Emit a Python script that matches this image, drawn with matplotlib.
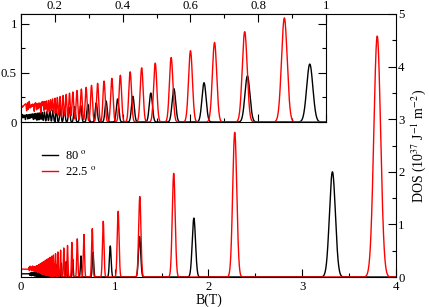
import numpy as np
import matplotlib
matplotlib.use("Agg")
import matplotlib.pyplot as plt
from matplotlib.ticker import MultipleLocator, FormatStrFormatter

plt.rcParams['font.family'] = ['Liberation Serif', 'DejaVu Serif']
plt.rcParams['mathtext.fontset'] = 'stix'

# ---------------- data ----------------
labels = ["80 $^{\\mathrm{o}}$", "22.5 $^{\\mathrm{o}}$"]
colors = ["black", "#ff0000"]

# Landau-level peak centres (T) and peak heights (10^37 J^-1 m^-2)
black_centers = [3.322, 1.844, 1.265, 0.952, 0.768, 0.640, 0.551, 0.483, 0.430, 0.385,
                 0.351, 0.322, 0.297, 0.276, 0.258, 0.242, 0.228, 0.216, 0.204, 0.194,
                 0.185, 0.177, 0.169, 0.162, 0.156, 0.150, 0.144, 0.139, 0.134, 0.130,
                 0.126, 0.122, 0.118, 0.115, 0.111, 0.108, 0.105, 0.103, 0.100, 0.098,
                 0.095, 0.093, 0.091, 0.089]
black_heights = [2.00, 1.12, 0.77, 0.59, 0.47, 0.40, 0.34, 0.295, 0.262, 0.235,
                 0.214, 0.196, 0.181, 0.168, 0.157, 0.148, 0.139, 0.132, 0.124, 0.118,
                 0.113, 0.108, 0.103, 0.099, 0.095, 0.092, 0.088, 0.085, 0.082, 0.079,
                 0.077, 0.074, 0.072, 0.070, 0.068, 0.066, 0.064, 0.063, 0.061, 0.060,
                 0.058, 0.057, 0.056, 0.054]

red_centers = [3.800, 2.280, 1.629, 1.267, 1.036, 0.877, 0.760, 0.671, 0.600, 0.543,
               0.496, 0.456, 0.422, 0.393, 0.368, 0.345, 0.326, 0.308, 0.292, 0.278,
               0.265, 0.253, 0.243, 0.233, 0.224, 0.215, 0.207, 0.200, 0.193, 0.187,
               0.181, 0.175, 0.170, 0.165, 0.161, 0.156, 0.152, 0.148, 0.144, 0.141,
               0.137, 0.134, 0.131, 0.128, 0.125, 0.123, 0.120, 0.118, 0.115, 0.113,
               0.111, 0.109, 0.107, 0.105, 0.103, 0.101, 0.099, 0.097, 0.096, 0.094,
               0.093, 0.091, 0.090, 0.088, 0.087]
red_heights = [4.58, 2.75, 1.97, 1.53, 1.25, 1.06, 0.92, 0.81, 0.726, 0.657,
               0.600, 0.552, 0.511, 0.476, 0.445, 0.417, 0.394, 0.373, 0.353, 0.336,
               0.321, 0.306, 0.294, 0.282, 0.271, 0.260, 0.250, 0.242, 0.234, 0.226,
               0.219, 0.212, 0.206, 0.200, 0.195, 0.189, 0.184, 0.179, 0.174, 0.171,
               0.166, 0.162, 0.159, 0.155, 0.151, 0.149, 0.145, 0.143, 0.139, 0.137,
               0.134, 0.132, 0.129, 0.127, 0.125, 0.122, 0.120, 0.117, 0.116, 0.114,
               0.113, 0.110, 0.109, 0.106, 0.105]

# low-field level where the levels merge
black_low_field = 0.06
red_low_field = 0.15

main_xticks = [0, 1, 2, 3, 4]
main_yticks = [0, 1, 2, 3, 4, 5]
inset_xticks = [0.2, 0.4, 0.6, 0.8, 1.0]
inset_yticks = [0, 0.5, 1.0]

WIDTH_FRAC = 0.0095   # Gaussian sigma relative to field


def dos(b, centers, heights, low_level):
    y = np.zeros_like(b)
    for c, h in zip(centers, heights):
        s = WIDTH_FRAC * c
        y += h * np.exp(-0.5 * ((b - c) / s) ** 2)
    edge = min(centers)
    sp = edge ** 2 * 0.2
    y += low_level / (1.0 + np.exp((b - (edge - 0.5 * sp)) / (0.3 * sp)))
    return y


series = [(black_centers, black_heights, black_low_field),
          (red_centers, red_heights, red_low_field)]

fig = plt.figure(figsize=(4.29, 3.07), dpi=100)

# ---------------- main axes ----------------
ax = fig.add_axes([0.049, 0.0977, 0.874, 0.8567])
b_main = np.linspace(0.0, 4.0, 40001)
for (c, h, lo), col, lab in zip(series, colors, labels):
    ax.plot(b_main, dos(b_main, c, h, lo), color=col, lw=1.0, label=lab)
ax.set_xlim(0, 4)
ax.set_ylim(0, 5)
ax.set_xticks(main_xticks)
ax.set_yticks(main_yticks)
ax.xaxis.set_minor_locator(MultipleLocator(0.5))
ax.yaxis.set_minor_locator(MultipleLocator(0.5))
ax.yaxis.tick_right()
ax.yaxis.set_label_position('right')
ax.tick_params(axis='both', which='both', direction='in', top=False, left=False,
               right=True, bottom=True, labelsize=9.2, width=0.8)
ax.tick_params(axis='x', which='major', length=6, pad=3)
ax.tick_params(axis='y', which='major', length=6, pad=1.5)
ax.tick_params(which='minor', length=3)
ax.set_xlabel("B(T)", fontsize=10, labelpad=0)
ax.set_ylabel("DOS (10$^{37}$ J$^{-1}$ m$^{-2}$)", fontsize=10, labelpad=3)
for sp in ax.spines.values():
    sp.set_linewidth(0.8)

leg = ax.legend(loc='upper left', bbox_to_anchor=(0.055, 0.487), frameon=False,
                fontsize=9, handlelength=1.3, handletextpad=0.55, labelspacing=0.25,
                borderpad=0, borderaxespad=0)

# ---------------- inset ----------------
ins = fig.add_axes([0.049, 0.6026, 0.711, 0.3518])
b_ins = np.linspace(0.1, 1.0, 36001)
for (c, h, lo), col in zip(series, colors):
    ins.plot(b_ins, dos(b_ins, c, h, lo), color=col, lw=1.0)
ins.set_xlim(0.1, 1.0)
ins.set_ylim(0, 1.1)
ins.set_xticks(inset_xticks)
ins.set_yticks(inset_yticks)
ins.xaxis.set_minor_locator(MultipleLocator(0.1))
ins.yaxis.set_minor_locator(MultipleLocator(0.25))
ins.xaxis.set_major_formatter(FormatStrFormatter('%g'))
ins.yaxis.set_major_formatter(FormatStrFormatter('%g'))
ins.tick_params(axis='both', which='both', direction='in', top=True, bottom=True,
                left=True, right=True, labeltop=True, labelbottom=False,
                labelleft=True, labelright=False, labelsize=9.2, width=0.8)
ins.tick_params(which='major', length=6, pad=3)
ins.tick_params(axis='x', which='major', pad=1.5)
ins.tick_params(which='minor', length=3)
for sp in ins.spines.values():
    sp.set_linewidth(0.8)

fig.savefig("out.png", dpi=100)
